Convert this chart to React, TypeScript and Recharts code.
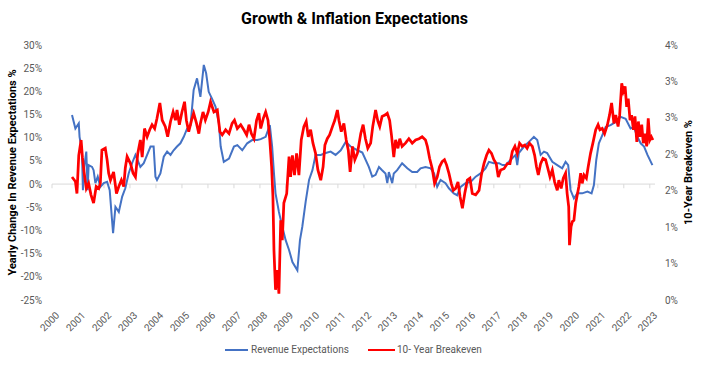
import { LineChart, Line, XAxis, YAxis, ReferenceLine } from "recharts"

// Revenue expectations, yearly change % (left axis)
const revenueDates = [
  2000.77, 2000.9, 2001.03, 2001.06, 2001.15, 2001.19, 2001.24, 2001.32, 2001.37, 2001.41,
  2001.54, 2001.6, 2001.67, 2001.76, 2001.86, 2001.99, 2002.12, 2002.22, 2002.31, 2002.35,
  2002.44, 2002.57, 2002.7, 2002.82, 2002.95, 2003.08, 2003.21, 2003.4, 2003.53, 2003.66,
  2003.79, 2003.91, 2003.98, 2004.04, 2004.17, 2004.3, 2004.43, 2004.56, 2004.68, 2004.81,
  2004.94, 2005.07, 2005.2, 2005.33, 2005.45, 2005.58, 2005.71, 2005.84, 2005.93, 2006.03,
  2006.15, 2006.29, 2006.42, 2006.49, 2006.61, 2006.81, 2007.0, 2007.13, 2007.32, 2007.51,
  2007.7, 2007.9, 2008.03, 2008.22, 2008.38, 2008.47, 2008.54, 2008.6, 2008.73, 2008.86,
  2008.99, 2009.12, 2009.25, 2009.44, 2009.54, 2009.63, 2009.76, 2009.89, 2010.02, 2010.14,
  2010.34, 2010.53, 2010.72, 2010.91, 2011.11, 2011.3, 2011.49, 2011.75, 2011.94, 2012.19,
  2012.32, 2012.45, 2012.58, 2012.7, 2012.83, 2012.9, 2012.96, 2013.09, 2013.15, 2013.28,
  2013.47, 2013.67, 2013.86, 2014.05, 2014.18, 2014.37, 2014.57, 2014.7, 2014.82, 2014.95,
  2015.14, 2015.27, 2015.46, 2015.59, 2015.72, 2015.91, 2016.11, 2016.3, 2016.49, 2016.68,
  2016.81, 2017.0, 2017.2, 2017.33, 2017.45, 2017.64, 2017.84, 2017.9, 2017.96, 2018.16,
  2018.35, 2018.54, 2018.67, 2018.8, 2018.93, 2019.05, 2019.25, 2019.44, 2019.63, 2019.76,
  2019.86, 2019.95, 2020.08, 2020.21, 2020.4, 2020.6, 2020.76, 2020.85, 2020.94, 2021.04,
  2021.17, 2021.3, 2021.49, 2021.69, 2021.88, 2022.07, 2022.26, 2022.39, 2022.52, 2022.65,
  2022.78, 2022.91, 2023.1,
]
const revenueValues = [
  14.9, 12.0, 13.1, 10.2, 7.3, -1.3, 3.7, 7.0, -1.3, 4.1,
  3.7, 3.0, 0.2, 1.6, -0.6, 0.2, 0.5, -1.3, -7.8, -10.6,
  -4.9, -6.0, -2.7, -0.9, 2.3, 4.5, 6.3, 3.7, 4.5, 6.3,
  8.1, 8.1, 1.6, 0.9, 2.3, 5.9, 7.0, 6.3, 7.3, 8.1,
  8.8, 10.2, 12.0, 12.7, 20.3, 22.8, 18.8, 25.7, 23.9, 19.9,
  18.5, 16.7, 13.1, 8.1, 4.8, 5.5, 8.1, 8.4, 7.3, 8.8,
  9.5, 9.5, 9.7, 10.2, 12.7, 8.1, 2.3, -2.0, -6.0, -9.2,
  -12.1, -14.2, -16.8, -18.6, -12.1, -9.2, -3.8, 0.9, 3.0, 6.3,
  6.3, 6.7, 7.0, 6.3, 7.3, 9.1, 8.1, 7.3, 6.8, 3.7,
  1.6, 2.0, 3.7, 3.0, 2.3, 0.2, 2.6, 0.2, 2.3, 3.0,
  4.5, 3.4, 2.6, 2.6, 3.4, 3.7, 3.4, 2.3, -0.6, 0.9,
  0.2, -0.9, -2.0, -2.4, -0.6, 0.2, 0.5, 1.6, 2.3, 3.4,
  4.8, 4.5, 4.5, 4.1, 4.1, 5.2, 6.3, 4.1, 6.7, 8.1,
  9.1, 10.2, 9.5, 6.3, 7.0, 6.7, 4.8, 4.1, 3.4, 4.8,
  4.1, -1.3, -3.1, -2.0, -2.0, -1.6, -2.0, -0.2, 5.2, 8.8,
  10.5, 12.3, 12.7, 13.4, 14.5, 14.1, 12.0, 12.3, 10.2, 8.8,
  8.1, 6.3, 4.1,
]

// 10-year breakeven % (right axis)
const breakevenDates = [
  2000.77, 2000.9, 2000.96, 2001.03, 2001.12, 2001.17, 2001.24, 2001.32, 2001.41, 2001.5,
  2001.6, 2001.7, 2001.8, 2001.86, 2001.92, 2002.05, 2002.12, 2002.18, 2002.25, 2002.37,
  2002.48, 2002.57, 2002.67, 2002.76, 2002.82, 2002.89, 2003.02, 2003.12, 2003.21, 2003.3,
  2003.4, 2003.47, 2003.56, 2003.66, 2003.76, 2003.85, 2003.95, 2004.04, 2004.15, 2004.24,
  2004.36, 2004.45, 2004.56, 2004.66, 2004.75, 2004.81, 2004.9, 2005.0, 2005.1, 2005.17,
  2005.26, 2005.37, 2005.45, 2005.56, 2005.65, 2005.71, 2005.81, 2005.9, 2006.01, 2006.1,
  2006.23, 2006.36, 2006.46, 2006.55, 2006.68, 2006.81, 2006.93, 2007.02, 2007.13, 2007.26,
  2007.38, 2007.49, 2007.58, 2007.67, 2007.77, 2007.87, 2007.96, 2008.03, 2008.13, 2008.22,
  2008.31, 2008.38, 2008.45, 2008.5, 2008.54, 2008.6, 2008.67, 2008.73, 2008.8, 2008.86,
  2008.92, 2009.03, 2009.12, 2009.18, 2009.25, 2009.33, 2009.41, 2009.5, 2009.59, 2009.69,
  2009.78, 2009.86, 2009.95, 2010.04, 2010.14, 2010.23, 2010.34, 2010.43, 2010.5, 2010.59,
  2010.68, 2010.79, 2010.88, 2010.98, 2011.04, 2011.13, 2011.23, 2011.32, 2011.4, 2011.47,
  2011.56, 2011.65, 2011.75, 2011.88, 2011.97, 2012.06, 2012.15, 2012.26, 2012.34, 2012.45,
  2012.54, 2012.61, 2012.7, 2012.81, 2012.9, 2012.99, 2013.06, 2013.15, 2013.22, 2013.31,
  2013.38, 2013.47, 2013.6, 2013.73, 2013.86, 2013.99, 2014.12, 2014.24, 2014.37, 2014.44,
  2014.53, 2014.63, 2014.72, 2014.82, 2014.91, 2015.01, 2015.1, 2015.18, 2015.27, 2015.36,
  2015.44, 2015.53, 2015.62, 2015.7, 2015.79, 2015.88, 2015.98, 2016.08, 2016.17, 2016.3,
  2016.43, 2016.52, 2016.62, 2016.72, 2016.81, 2016.91, 2017.0, 2017.09, 2017.17, 2017.26,
  2017.39, 2017.52, 2017.62, 2017.71, 2017.81, 2017.9, 2017.99, 2018.09, 2018.19, 2018.28,
  2018.37, 2018.48, 2018.57, 2018.64, 2018.71, 2018.8, 2018.89, 2018.99, 2019.08, 2019.16,
  2019.25, 2019.34, 2019.44, 2019.5, 2019.59, 2019.67, 2019.76, 2019.82, 2019.88, 2019.91,
  2019.97, 2020.02, 2020.08, 2020.15, 2020.21, 2020.27, 2020.34, 2020.4, 2020.47, 2020.56,
  2020.63, 2020.72, 2020.81, 2020.92, 2021.01, 2021.08, 2021.17, 2021.26, 2021.37, 2021.45,
  2021.53, 2021.62, 2021.69, 2021.78, 2021.84, 2021.92, 2021.98, 2022.05, 2022.11, 2022.17,
  2022.24, 2022.3, 2022.37, 2022.43, 2022.5, 2022.56, 2022.62, 2022.69, 2022.75, 2022.82,
  2022.88, 2022.94, 2023.0, 2023.06, 2023.12,
]
const breakevenValues = [
  1.93, 1.86, 1.67, 2.27, 2.51, 2.24, 1.99, 1.75, 1.83, 1.65,
  1.52, 1.78, 1.75, 1.83, 2.35, 2.38, 2.2, 1.99, 1.88, 2.01,
  1.67, 1.78, 1.88, 1.78, 2.07, 2.25, 2.14, 1.99, 1.93, 2.3,
  2.51, 2.24, 2.69, 2.56, 2.67, 2.75, 2.69, 2.85, 3.09, 2.82,
  2.72, 2.56, 2.8, 2.95, 2.82, 2.98, 2.75, 2.95, 3.11, 2.82,
  2.64, 2.82, 2.93, 2.77, 2.61, 2.77, 2.95, 2.82, 2.95, 3.11,
  2.95, 2.98, 2.64, 2.59, 2.67, 2.61, 2.77, 2.82, 2.69, 2.75,
  2.67, 2.59, 2.75, 2.61, 2.53, 2.82, 2.93, 2.69, 2.85, 2.95,
  2.82, 2.51, 2.09, 1.62, 0.78, 0.16, 0.47, 0.1, 1.25, 0.94,
  1.52, 1.67, 2.25, 1.93, 2.27, 1.96, 2.3, 1.96, 2.51, 2.72,
  2.8, 2.56, 2.67, 2.46, 2.3, 2.04, 1.88, 2.09, 2.43, 2.53,
  2.59, 2.72, 2.82, 2.98, 2.82, 2.64, 2.77, 2.51, 2.35, 2.01,
  2.41, 2.2, 2.3, 2.61, 2.75, 2.53, 2.38, 2.46, 2.72, 2.98,
  2.8, 2.72, 2.88, 2.9, 2.93, 2.82, 2.59, 2.24, 2.51, 2.38,
  2.53, 2.41, 2.46, 2.53, 2.46, 2.51, 2.53, 2.56, 2.51, 2.41,
  2.22, 2.06, 1.83, 1.93, 2.09, 2.17, 2.2, 2.12, 1.99, 1.83,
  1.72, 1.75, 1.85, 1.62, 1.44, 1.67, 1.88, 1.91, 1.67, 1.65,
  1.72, 1.96, 2.14, 2.27, 2.35, 2.3, 2.2, 2.14, 1.93, 2.04,
  2.06, 2.14, 2.14, 2.33, 2.41, 2.3, 2.46, 2.41, 2.43, 2.38,
  2.46, 2.41, 2.27, 2.09, 1.96, 2.14, 2.22, 2.2, 2.06, 1.93,
  2.04, 1.85, 1.72, 1.88, 1.75, 1.91, 1.99, 1.67, 1.46, 0.86,
  1.15, 1.23, 1.25, 1.52, 1.65, 1.78, 1.99, 1.83, 1.96, 1.91,
  2.09, 2.3, 2.46, 2.67, 2.75, 2.67, 2.69, 2.61, 2.75, 2.9,
  3.09, 2.77, 2.9, 2.72, 2.9, 3.4, 3.27, 3.35, 3.03, 3.16,
  2.82, 2.9, 2.67, 2.88, 2.48, 2.8, 2.56, 2.75, 2.46, 2.61,
  2.41, 2.85, 2.51, 2.56, 2.51,
]

const yearTicks = [
  2000, 2001, 2002, 2003, 2004, 2005, 2006, 2007, 2008, 2009, 2010, 2011,
  2012, 2013, 2014, 2015, 2016, 2017, 2018, 2019, 2020, 2021, 2022, 2023,
]
const leftTicks = [-25, -20, -15, -10, -5, 0, 5, 10, 15, 20, 25, 30]
const rightTicks = [0, 1, 2, 3, 4, 5, 6, 7].map((i) => (i * 4) / 7)

const revenueData = revenueDates.map((x, i) => ({ x, v: revenueValues[i] }))
const breakevenData = breakevenDates.map((x, i) => ({ x, v: breakevenValues[i] }))

const FONT = "Roboto, 'Liberation Sans', sans-serif"
const GREY = "#595959"

function YearTick(props: any) {
  const { x, y, payload } = props
  const tx = x + 3
  const ty = y + 3
  return (
    <text
      x={tx}
      y={ty}
      textAnchor="end"
      dominantBaseline="hanging"
      fontSize={10}
      fontFamily={FONT}
      fill={GREY}
      transform={`rotate(-45 ${tx} ${ty})`}
    >
      {payload.value}
    </text>
  )
}

function AxisTitle(props: any) {
  const { viewBox, value, side } = props
  const cx = side === "left" ? viewBox.x + 10 : viewBox.x + viewBox.width - 21
  const cy = viewBox.y + viewBox.height / 2
  return (
    <text
      x={cx}
      y={cy}
      textAnchor="middle"
      dominantBaseline="central"
      fontSize={11}
      fontWeight={700}
      fontFamily={FONT}
      fill="#000"
      transform={`rotate(-90 ${cx} ${cy})`}
    >
      {value}
    </text>
  )
}

export default function App() {
  return (
    <div
      style={{
        position: "absolute",
        left: 0,
        top: 0,
        width: 709,
        height: 365,
        background: "#fff",
        fontFamily: FONT,
      }}
    >
      <div
        style={{
          position: "absolute",
          top: 10,
          left: 0,
          width: 709,
          textAlign: "center",
          fontWeight: 700,
          fontSize: 16,
          lineHeight: "18px",
          color: "#000",
        }}
      >
        Growth &amp; Inflation Expectations
      </div>
      <LineChart width={709} height={365} margin={{ top: 45, right: 0, bottom: 35, left: 2 }}>
        <XAxis
          type="number"
          dataKey="x"
          domain={[2000, 2023.2]}
          ticks={yearTicks}
          interval={0}
          allowDataOverflow
          axisLine={false}
          tickLine={false}
          height={30}
          tick={<YearTick />}
        />
        <YAxis
          yAxisId="left"
          domain={[-25, 30]}
          ticks={leftTicks}
          interval={0}
          width={50}
          axisLine={false}
          tickLine={false}
          tickMargin={4}
          tickFormatter={(v: number) => `${v}%`}
          tick={{ fontSize: 10, fill: GREY, fontFamily: FONT }}
          label={{
            value: "Yearly Change In Revenue Expectations %",
            content: (p: any) => <AxisTitle {...p} value="Yearly Change In Revenue Expectations %" side="left" />,
          }}
        />
        <YAxis
          yAxisId="right"
          orientation="right"
          domain={[0, 4]}
          ticks={rightTicks}
          interval={0}
          width={54}
          axisLine={false}
          tickLine={false}
          tickMargin={4}
          tickFormatter={(v: number) => `${Math.round(v)}%`}
          tick={{ fontSize: 10, fill: GREY, fontFamily: FONT, textAnchor: "start" }}
          label={{
            value: "10-Year Breakeven %",
            content: (p: any) => <AxisTitle {...p} value="10-Year Breakeven %" side="right" />,
          }}
        />
        <ReferenceLine yAxisId="left" y={0} stroke="#d9d9d9" strokeWidth={1} />
        {yearTicks.map((t) => (
          <ReferenceLine
            key={t}
            yAxisId="left"
            segment={[
              { x: t, y: 0 },
              { x: t, y: -0.9 },
            ]}
            stroke="#d9d9d9"
          />
        ))}
        <Line
          yAxisId="left"
          data={revenueData}
          dataKey="v"
          type="linear"
          stroke="#4472C4"
          strokeWidth={2}
          dot={false}
          isAnimationActive={false}
        />
        <Line
          yAxisId="right"
          data={breakevenData}
          dataKey="v"
          type="linear"
          stroke="#FF0000"
          strokeWidth={2.75}
          dot={false}
          isAnimationActive={false}
        />
      </LineChart>
      <div
        style={{
          position: "absolute",
          top: 343,
          left: 225,
          display: "flex",
          alignItems: "center",
          fontSize: 10,
          color: GREY,
          lineHeight: "14px",
        }}
      >
        <span style={{ display: "inline-block", width: 23, height: 2, background: "#4472C4", marginRight: 3 }} />
        <span>Revenue Expectations</span>
        <span
          style={{ display: "inline-block", width: 27, height: 2, background: "#FF0000", marginLeft: 19, marginRight: 2 }}
        />
        <span>10- Year Breakeven</span>
      </div>
    </div>
  )
}
